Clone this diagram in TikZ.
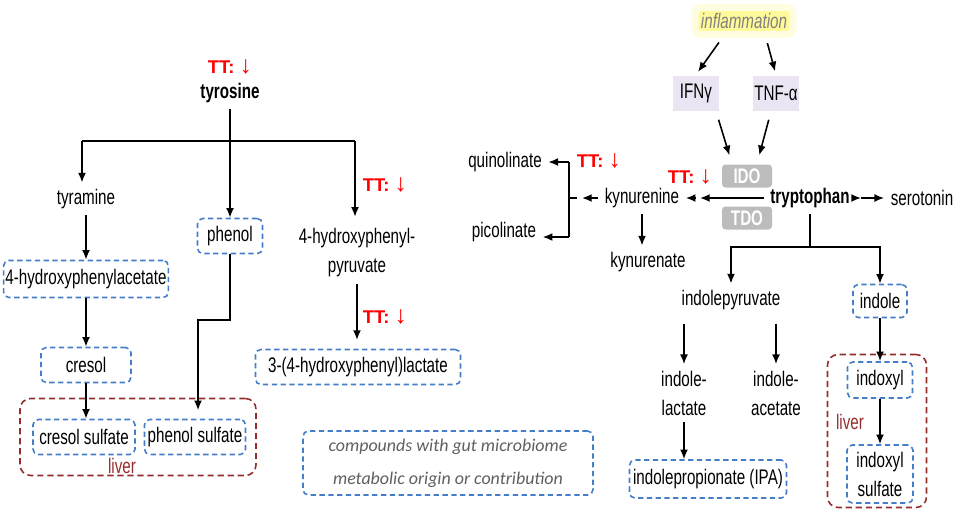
\documentclass[tikz,border=0pt]{standalone}
\usepackage{fontspec}
\setmainfont{Liberation Sans}[FakeStretch=0.72]
\newfontfamily\legendfont{Carlito}
\newfontfamily\markfont{Liberation Sans}
\usetikzlibrary{arrows.meta, positioning}
\definecolor{microblue}{RGB}{68,125,200}
\definecolor{liverred}{RGB}{150,45,45}
\definecolor{cytofill}{RGB}{234,228,243}
\definecolor{enzgray}{RGB}{188,188,188}
\definecolor{legendgray}{RGB}{95,95,95}
\newcommand{\ttdrop}{TT: {\fontsize{14}{14}\selectfont ↓}}
\tikzset{
    microbe/.style={draw=microblue, dash pattern=on 3pt off 2pt, line width=0.9pt, rounded corners=3pt, minimum height=0.7cm, inner sep=1pt},
    liverbox/.style={draw=liverred, dash pattern=on 3.5pt off 2.2pt, line width=0.9pt, rounded corners=6pt},
    ttmark/.style={text=red, font=\markfont\fontsize{10.5}{12}\selectfont\bfseries},
    enzyme/.style={fill=enzgray, text=white, font=\fontsize{12}{13}\selectfont\bfseries, rounded corners=2pt, minimum width=1cm, minimum height=0.46cm, inner sep=0pt},
    cytokine/.style={fill=cytofill, minimum width=0.92cm, minimum height=0.7cm, inner sep=1pt},
    mainmol/.style={font=\fontsize{12}{13}\selectfont\bfseries}
}
\begin{document}
\begin{tikzpicture}[x=0.02cm, y=-0.02cm, >={Latex[length=5.5pt,width=4.5pt]}, line width=0.9pt, font=\fontsize{12}{16.5}\selectfont]
\useasboundingbox (0,0) rectangle (957,512);

% tyrosine side
\node[ttmark] (tt1) at (230,67) {\ttdrop};
\node[mainmol] (tyr) at (230,93) {tyrosine};
\node (tyram) at (86,199) {tyramine};
\node[microbe, minimum width=1.3cm] (phen) at (230,236) {phenol};
\node[align=center] (hpp) at (357,253) {4-hydroxyphenyl-\\pyruvate};
\node[ttmark] (tt2) at (385,185) {\ttdrop};
\node[microbe, minimum width=3.28cm, minimum height=0.74cm] (hpa) at (86,279) {4-hydroxyphenylacetate};
\node[microbe, minimum width=1.8cm] (cresol) at (86,365) {cresol};
\node[ttmark] (tt3) at (385,317) {\ttdrop};
\node[microbe, minimum width=4.1cm] (hpl) at (358,367) {3-(4-hydroxyphenyl)lactate};
\node[liverbox, minimum width=4.72cm, minimum height=1.54cm] (liverL) at (138,437) {};
\node[microbe, minimum width=2.04cm] (cresS) at (84,437) {cresol sulfate};
\node[microbe, minimum width=2.02cm] (phenS) at (195,437) {phenol sulfate};
\node[text=liverred] (livL) at (122,466) {liver};

\node[microbe, minimum width=5.8cm, minimum height=1.28cm, align=center, text=legendgray,
      font=\legendfont\itshape\fontsize{10.2}{19}\selectfont] (legend) at (448,463)
      {compounds with gut microbiome\\metabolic origin or contribution};

\coordinate (barL) at (82,141);
\coordinate (barR) at (355,141);
\coordinate (pbend) at (198,320);

\draw (barL) -- (barR);
\draw[->] (tyr) -- (phen);
\draw[->] (barL) -- (barL |- tyram.north);
\draw[->, shorten >=3pt] (barR) -- (barR |- hpp.north);
\draw[->] (phen.south) |- (pbend) -- ([yshift=-0.25cm]pbend |- liverL.north);
\draw
(tyram) edge[->] (hpa)
(hpa) edge[->] (cresol)
(cresol) edge[->] (cresol |- cresS.north)
(hpp) edge[->, shorten >=5pt] (hpp |- hpl.north);

% tryptophan side
\node[font=\fontsize{12}{13}\selectfont\itshape, text=gray, fill=yellow!40, draw=yellow!12, line width=4pt,
      rounded corners=3pt, minimum width=1.9cm, minimum height=0.5cm] (infl) at (744,21) {inflammation};
\node[cytokine] (ifn) at (696,93) {IFNγ};
\node[cytokine] (tnf) at (776,93) {TNF-α};
\node[enzyme] (ido) at (747,176) {IDO};
\node[enzyme] (tdo) at (747,218) {TDO};
\node[mainmol] (trp) at (810,198) {tryptophan};
\node (ser) at (922,198) {serotonin};
\node (kyn) at (642,198) {kynurenine};
\node[ttmark] (tt4) at (690,177) {\ttdrop};
\node[ttmark] (tt5) at (599,161) {\ttdrop};
\node (quin) at (505,162) {quinolinate};
\node (pic) at (504,232) {picolinate};
\node (kyna) at (648,262) {kynurenate};
\node (ipy) at (731,300) {indolepyruvate};
\node[microbe, minimum width=1.08cm, minimum height=0.66cm] (indole) at (880,301) {indole};
\node[align=center] (ila) at (684,393) {indole-\\lactate};
\node[align=center] (iac) at (776,393) {indole-\\acetate};
\node[microbe, minimum width=3.14cm, minimum height=0.76cm] (ipa) at (708,479) {indolepropionate (IPA)};
\node[liverbox, minimum width=1.98cm, minimum height=3.06cm] (liverR) at (877,431) {};
\node[microbe, minimum width=1.3cm, minimum height=0.72cm] (indoxyl) at (880,380) {indoxyl};
\node[microbe, minimum width=1.32cm, minimum height=1.16cm, align=center] (indoxS) at (880,474) {indoxyl\\sulfate};
\node[text=liverred] (livR) at (850,422) {liver};

\coordinate (sermid) at (861,198);
\coordinate (kynmid) at (700,198);
\coordinate (kyntip) at (582,198);
\coordinate (brk) at (569,198);
\coordinate (brkstub) at (577,198);
\coordinate (bq) at (569,162);
\coordinate (bp) at (569,237);
\coordinate (tbar) at (810,247);

\draw[->, shorten <=3pt, shorten >=2pt] ([xshift=-0.44cm]infl.south) -- (ifn.north);
\draw[->, shorten <=3pt, shorten >=2pt] ([xshift=0.44cm]infl.south) -- (tnf.north);
\draw[->, shorten <=5pt, shorten >=5pt] ([xshift=0.4cm]ifn.south) -- ([xshift=-0.3cm]ido.north);
\draw[->, shorten <=5pt, shorten >=5pt] ([xshift=-0.1cm]tnf.south) -- ([xshift=0.2cm]ido.north);
\draw[->] (trp) -- (sermid);
\draw[->] (sermid) -- (ser);
\draw[->] (trp) -- (kynmid);
\draw[->, shorten <=3pt] (kynmid) -- (kyn);
\draw[->] (kyn) -- (kyntip);
\draw (brk) -- (brkstub);
\draw (bq) -- (bp);
\draw[->] (bq) -- (quin);
\draw[->] (bp) -- (bp -| pic.east);
\draw[->] (kyn) -- (kyn |- kyna.north);
\draw (trp) -- (tbar);
\draw[->] (tbar) -| (ipy);
\draw[->] (tbar) -| (indole);
\draw
(ila |- ipy.south) edge[->, shorten <=4pt] (ila)
(iac |- ipy.south) edge[->, shorten <=4pt] (iac)
(ila) edge[->] (ila |- ipa.north)
(indole) edge[->] (indoxyl)
(indoxyl) edge[->] (indoxS);
\end{tikzpicture}
\end{document}
